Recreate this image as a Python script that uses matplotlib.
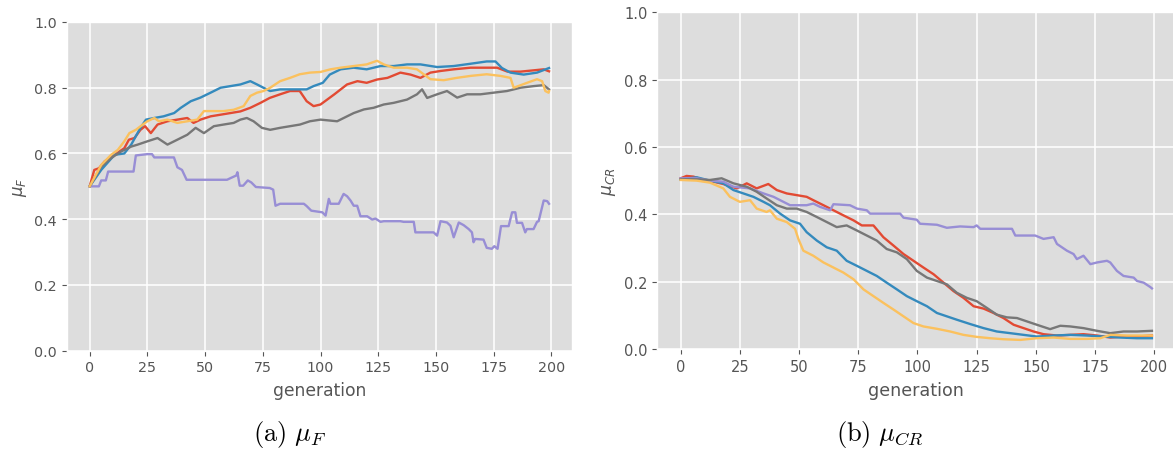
import matplotlib
matplotlib.use("Agg")
import matplotlib.pyplot as plt

plt.style.use("ggplot")

# ---- (a) mu_F per generation, one run per colour ----
f_red_x = [0, 2, 4, 6.5, 8.6, 10.8, 15, 17, 19.4, 22, 24, 26.5, 29.4, 33.7, 38, 42.3, 45, 48, 52.4, 56.7,
           61, 65.3, 69.6, 74, 78, 82.5, 86.8, 91, 94, 97, 100, 106, 111.5, 116, 120, 124.5, 129, 134.6, 139,
           143.3, 147.6, 152, 157.7, 165, 172, 176.5, 181, 186.6, 192.4, 196.7, 199]
f_red_y = [0.50, 0.55, 0.555, 0.576, 0.586, 0.596, 0.616, 0.642, 0.647, 0.672, 0.683, 0.662, 0.688, 0.698,
           0.703, 0.708, 0.693, 0.703, 0.713, 0.718, 0.723, 0.728, 0.739, 0.754, 0.769, 0.78, 0.79, 0.79,
           0.759, 0.744, 0.749, 0.78, 0.81, 0.82, 0.815, 0.825, 0.83, 0.846, 0.84, 0.83, 0.846, 0.851, 0.856,
           0.861, 0.861, 0.861, 0.849, 0.849, 0.853, 0.856, 0.85]

f_blue_x = [0, 5, 10.8, 15, 18, 22, 24.4, 28, 32, 36.6, 39.5, 43.8, 48, 52.4, 56.7, 61, 65.3, 69.6, 72.5,
            75.3, 78.2, 82.5, 88.3, 94, 97, 101, 104, 108.7, 114.4, 120, 126, 131.7, 137.5, 143.3, 150.5,
            157.7, 165, 172, 175.8, 178.6, 182.3, 188, 193.8, 199]
f_blue_y = [0.50, 0.55, 0.596, 0.60, 0.627, 0.678, 0.703, 0.708, 0.713, 0.723, 0.739, 0.759, 0.77, 0.785,
            0.80, 0.805, 0.81, 0.82, 0.81, 0.80, 0.79, 0.795, 0.795, 0.795, 0.805, 0.815, 0.84, 0.856, 0.861,
            0.856, 0.866, 0.866, 0.871, 0.871, 0.863, 0.866, 0.873, 0.88, 0.88, 0.86, 0.846, 0.84, 0.846, 0.86]

f_purple_x = [0, 4, 5, 7, 8, 19, 20, 25, 27, 28, 36.5, 38, 40, 42, 59.5, 61, 63.5, 64, 65, 66.5, 68.5, 70,
              72, 78, 79.5, 80.5, 82.5, 92.8, 94, 96, 100.8, 102.2, 103.6, 104.3, 107.9, 110, 111.5, 113,
              114.4, 115.9, 117.3, 120.2, 122.4, 123.8, 126, 127.4, 134.6, 136, 140.4, 141.1, 149, 150.5,
              152, 154.8, 156.3, 157.7, 159.9, 162, 164.2, 165.6, 166.3, 167, 170.6, 172, 174.2, 175.3,
              176.7, 178.2, 181.5, 183, 184.4, 185.1, 187.3, 188.7, 189.4, 192.3, 193.8, 194.5, 196.7,
              198.2, 199]
f_purple_y = [0.50, 0.50, 0.518, 0.518, 0.545, 0.545, 0.594, 0.598, 0.598, 0.588, 0.588, 0.558, 0.55, 0.52,
              0.52, 0.525, 0.533, 0.543, 0.502, 0.502, 0.518, 0.512, 0.498, 0.495, 0.49, 0.441, 0.447,
              0.447, 0.44, 0.426, 0.421, 0.411, 0.462, 0.447, 0.447, 0.477, 0.47, 0.457, 0.441, 0.441,
              0.409, 0.409, 0.399, 0.402, 0.392, 0.394, 0.394, 0.392, 0.392, 0.36, 0.36, 0.35, 0.394, 0.39,
              0.38, 0.345, 0.39, 0.382, 0.37, 0.36, 0.33, 0.34, 0.338, 0.313, 0.31, 0.318, 0.31, 0.379,
              0.379, 0.421, 0.421, 0.389, 0.389, 0.36, 0.37, 0.37, 0.392, 0.394, 0.457, 0.455, 0.447]

f_gray_x = [0, 5, 9.3, 13.6, 18, 20.8, 25, 29.4, 33.7, 38, 42.3, 45.9, 49.5, 53.8, 58, 62.4, 65.3, 68.1,
            71, 74.6, 78.2, 82.5, 86.8, 91.1, 95.4, 100, 107.2, 111.5, 114.4, 118.8, 123, 127.4, 131.7,
            137.5, 141.8, 144, 146.2, 150.5, 154.8, 159.2, 163.5, 169.3, 175, 180.8, 186.6, 192.4, 196.7, 199]
f_gray_y = [0.50, 0.56, 0.586, 0.606, 0.621, 0.627, 0.637, 0.647, 0.627, 0.642, 0.657, 0.678, 0.662, 0.683,
            0.688, 0.693, 0.703, 0.708, 0.698, 0.678, 0.672, 0.678, 0.683, 0.688, 0.698, 0.703, 0.698, 0.713,
            0.723, 0.734, 0.739, 0.749, 0.754, 0.764, 0.78, 0.795, 0.769, 0.78, 0.79, 0.77, 0.78, 0.78,
            0.785, 0.79, 0.80, 0.805, 0.808, 0.795]

f_yellow_x = [0, 5, 9.3, 12.2, 15, 17.2, 20, 23, 25, 28, 30, 33.7, 38, 42.3, 46.6, 49.5, 53.8, 58, 62.4,
              66.7, 69.6, 72.5, 75.3, 78.2, 82.5, 86.8, 91, 95.4, 100, 104.3, 108.7, 114.4, 120, 124.5,
              127.4, 131.7, 137.5, 141.8, 144.7, 147.6, 153.4, 159, 165, 172, 178, 182.3, 183.7, 189.5,
              193.8, 196, 197.4, 198.8, 199]
f_yellow_y = [0.50, 0.565, 0.596, 0.611, 0.637, 0.662, 0.672, 0.688, 0.698, 0.708, 0.698, 0.703, 0.693,
              0.698, 0.703, 0.729, 0.729, 0.729, 0.733, 0.744, 0.775, 0.785, 0.79, 0.80, 0.82, 0.83, 0.841,
              0.846, 0.848, 0.856, 0.861, 0.866, 0.871, 0.882, 0.871, 0.861, 0.861, 0.856, 0.841, 0.826,
              0.823, 0.83, 0.836, 0.841, 0.836, 0.83, 0.80, 0.815, 0.826, 0.82, 0.79, 0.785, 0.79]

# ---- (b) mu_CR per generation ----
cr_red_x = [0, 2.5, 5.4, 9.6, 13.8, 18, 23.7, 27.9, 32.1, 37, 40.6, 44.8, 49, 53.2, 56, 60.3, 64.5, 68.7,
            73, 76.5, 81.4, 85.6, 89.9, 94.1, 98.3, 102.5, 106.8, 111, 115.2, 119.4, 123.7, 127.9, 132.1,
            136.3, 140.6, 144.8, 149, 153.2, 158.9, 164.5, 170.1, 175.8, 181.4, 187, 192.7, 199]
cr_red_y = [0.507, 0.514, 0.512, 0.502, 0.497, 0.49, 0.477, 0.492, 0.477, 0.49, 0.472, 0.462, 0.457, 0.452,
            0.442, 0.427, 0.412, 0.397, 0.382, 0.367, 0.367, 0.332, 0.307, 0.282, 0.262, 0.242, 0.222,
            0.197, 0.172, 0.152, 0.127, 0.12, 0.107, 0.092, 0.072, 0.062, 0.052, 0.044, 0.04, 0.042, 0.044,
            0.04, 0.034, 0.037, 0.037, 0.04]

cr_blue_x = [0, 6.8, 12.4, 18, 22.3, 26.5, 30.7, 35, 37.7, 42, 46.2, 50.4, 53.2, 57.5, 61.7, 65.9, 70.1,
             74.4, 78.6, 82.8, 87, 91.3, 95.5, 99.7, 104, 108.2, 112.4, 116.6, 122.3, 127.9, 133.5, 139.2,
             144.8, 150.4, 157.5, 164.5, 171.5, 178.6, 185.6, 192.7, 199]
cr_blue_y = [0.504, 0.51, 0.50, 0.492, 0.472, 0.462, 0.452, 0.437, 0.427, 0.402, 0.382, 0.372, 0.347, 0.322,
             0.302, 0.292, 0.262, 0.247, 0.232, 0.217, 0.197, 0.177, 0.157, 0.142, 0.127, 0.107, 0.097,
             0.087, 0.074, 0.062, 0.052, 0.047, 0.042, 0.037, 0.04, 0.042, 0.04, 0.037, 0.034, 0.032, 0.032]

cr_purple_x = [0, 6.8, 12.4, 18, 22.3, 29.3, 35, 39.2, 43.4, 46.2, 53.2, 56, 58.9, 63.1, 64.5, 71.5, 74.4,
               78.6, 80, 92.7, 94.1, 99.7, 101.1, 108.2, 112.4, 118, 123.7, 125, 126.5, 139.9, 141.3,
               149.7, 153.2, 157.5, 158.9, 163.1, 165.9, 167.3, 170.1, 173, 175.8, 180, 181.4, 184.2, 187,
               191.3, 192.7, 195.5, 198.3, 199]
cr_purple_y = [0.507, 0.507, 0.50, 0.497, 0.482, 0.477, 0.462, 0.452, 0.437, 0.427, 0.427, 0.432, 0.422,
               0.412, 0.43, 0.427, 0.417, 0.412, 0.402, 0.402, 0.39, 0.384, 0.372, 0.369, 0.36, 0.364,
               0.362, 0.367, 0.357, 0.357, 0.337, 0.337, 0.327, 0.332, 0.312, 0.292, 0.282, 0.267, 0.277,
               0.252, 0.257, 0.262, 0.257, 0.232, 0.217, 0.212, 0.202, 0.197, 0.184, 0.18]

cr_gray_x = [0, 6.8, 12.4, 17.3, 22.3, 27.9, 32.1, 36.3, 40.6, 44.8, 49, 53.2, 57.5, 61.7, 65.9, 70.1,
             74.4, 78.6, 82.8, 87, 91.3, 95.5, 99.7, 104, 108.2, 112.4, 116.6, 120.8, 125, 129.3, 133.5,
             137.7, 142, 146.2, 150.4, 156, 160.3, 164.5, 170.1, 175.8, 181.4, 187, 192.7, 199]
cr_gray_y = [0.504, 0.504, 0.502, 0.507, 0.492, 0.482, 0.467, 0.447, 0.427, 0.417, 0.417, 0.407, 0.392,
             0.377, 0.362, 0.367, 0.352, 0.337, 0.322, 0.297, 0.287, 0.267, 0.232, 0.212, 0.202, 0.192,
             0.167, 0.152, 0.142, 0.122, 0.102, 0.094, 0.092, 0.082, 0.072, 0.059, 0.069, 0.067, 0.062,
             0.054, 0.047, 0.052, 0.052, 0.054]

cr_yellow_x = [0, 6.8, 12.4, 18, 20.8, 25, 29.3, 32.1, 36.3, 37.7, 40.6, 44.8, 48.3, 49.7, 51.8, 56, 60.3,
               64.5, 68.7, 73, 77.2, 81.4, 85.6, 89.9, 94.1, 98.3, 102.5, 108.2, 113.8, 119.4, 125, 130.7,
               136.3, 143.4, 150.4, 157.5, 164.5, 171.5, 177.2, 181.4, 188.5, 195.5, 199]
cr_yellow_y = [0.502, 0.50, 0.494, 0.477, 0.452, 0.437, 0.442, 0.417, 0.407, 0.412, 0.387, 0.377, 0.357,
               0.327, 0.292, 0.277, 0.257, 0.242, 0.227, 0.207, 0.177, 0.157, 0.137, 0.117, 0.097, 0.077,
               0.067, 0.06, 0.052, 0.042, 0.036, 0.032, 0.029, 0.027, 0.032, 0.034, 0.03, 0.03, 0.032, 0.042,
               0.04, 0.04, 0.04]

panel_a = [(f_red_x, f_red_y), (f_blue_x, f_blue_y), (f_purple_x, f_purple_y),
           (f_gray_x, f_gray_y), (f_yellow_x, f_yellow_y)]
panel_b = [(cr_red_x, cr_red_y), (cr_blue_x, cr_blue_y), (cr_purple_x, cr_purple_y),
           (cr_gray_x, cr_gray_y), (cr_yellow_x, cr_yellow_y)]
run_colors = ["#E24A33", "#348ABD", "#988ED5", "#777777", "#FBC15E"]

W, H = 1173, 452
fig = plt.figure(figsize=(W / 100, H / 100), dpi=100)
fig.patch.set_facecolor("white")

# axes boxes in pixels: left, top, right, bottom
boxes = [(66.7, 23.0, 572.0, 351.7), (657.1, 13.3, 1175.5, 350.0)]
scales = [1.0, 1.025]
ylabels = [r"$\mu_F$", r"$\mu_{CR}$"]

for panel, box, sc, ylab in zip([panel_a, panel_b], boxes, scales, ylabels):
    l, t, r, b = box
    ax = fig.add_axes([l / W, 1 - b / H, (r - l) / W, (b - t) / H])
    ax.set_facecolor("#DDDDDD")
    for (xs, ys), c in zip(panel, run_colors):
        ax.plot(xs, ys, color=c, lw=1.7)
    ax.set_xlim(-9.95, 208.95)
    ax.set_ylim(0, 1)
    ax.set_xticks(range(0, 201, 25))
    ax.set_yticks([0, 0.2, 0.4, 0.6, 0.8, 1.0])
    ax.tick_params(labelsize=10.3 * sc)
    ax.set_xlabel("generation", fontsize=12.3 * sc, labelpad=5)
    ax.set_ylabel(ylab, fontsize=12 * sc)
    ax.grid(True, color="white", lw=1.1)

fig.text(290 / W, 1 - 435 / H, r"$\mathrm{(a)}\ \mu_F$", ha="center", va="center",
         fontsize=19, math_fontfamily="cm", color="black")
fig.text(880 / W, 1 - 435 / H, r"$\mathrm{(b)}\ \mu_{CR}$", ha="center", va="center",
         fontsize=19, math_fontfamily="cm", color="black")

fig.savefig("out.png", dpi=100)
